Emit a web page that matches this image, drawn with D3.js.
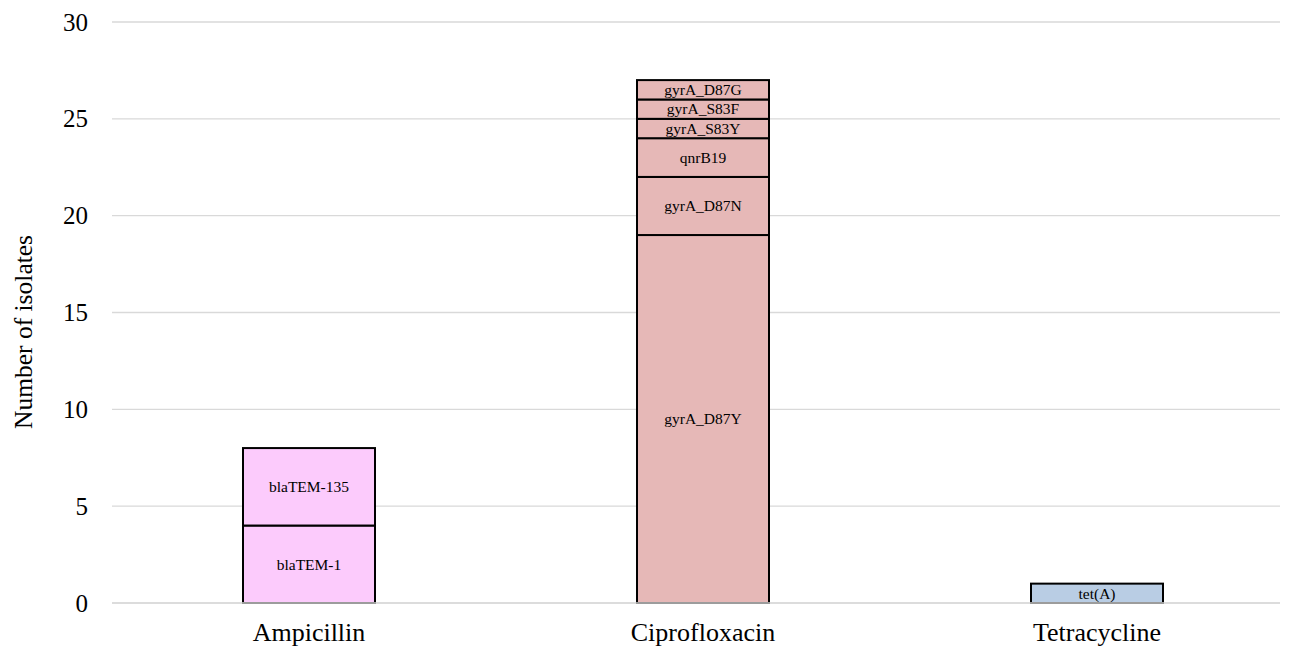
<!DOCTYPE html>
<html>
<head>
<meta charset="utf-8">
<script src="https://cdn.jsdelivr.net/npm/d3@7"></script>
<style>
  body { margin: 0; background: #fff; }
  svg text { font-family: "Liberation Serif", "Times New Roman", serif; fill: #000; }
</style>
</head>
<body>
<svg width="1293" height="647"></svg>
<script>
// antibiotic classes on the x axis
const drugs = ['Ampicillin', 'Ciprofloxacin', 'Tetracycline'];

// resistance genes / mutations, stacked bottom to top
const ampGenes = ['blaTEM-1', 'blaTEM-135'];
const ampCounts = [4, 4];

const cipGenes = ['gyrA_D87Y', 'gyrA_D87N', 'qnrB19', 'gyrA_S83Y', 'gyrA_S83F', 'gyrA_D87G'];
const cipCounts = [19, 3, 2, 1, 1, 1];

const tetGenes = ['tet(A)'];
const tetCounts = [1];

const yTicks = [0, 5, 10, 15, 20, 25, 30];

const barColors = { Ampicillin: '#fccbfc', Ciprofloxacin: '#e6b8b7', Tetracycline: '#b9cde4' };

// build stacked segments
const groups = [
    { drug: 'Ampicillin', genes: ampGenes, counts: ampCounts },
    { drug: 'Ciprofloxacin', genes: cipGenes, counts: cipCounts },
    { drug: 'Tetracycline', genes: tetGenes, counts: tetCounts }
];
const segments = [];
groups.forEach(g => {
    let base = 0;
    g.genes.forEach((name, i) => {
        segments.push({ drug: g.drug, name: name, y0: base, y1: base + g.counts[i] });
        base += g.counts[i];
    });
});

const svg = d3.select('svg');

const x = d3.scaleBand().domain(drugs).range([112, 1294]).paddingInner(0).paddingOuter(0);
const y = d3.scaleLinear().domain([0, 30]).range([603, 22]);
const barW = 132;

// gridlines (no zero line yet, it goes on top of the bars)
svg.append('g').selectAll('line')
    .data(yTicks.filter(d => d > 0))
    .join('line')
    .attr('x1', 112).attr('x2', 1280)
    .attr('y1', d => y(d)).attr('y2', d => y(d))
    .attr('stroke', '#d9d9d9').attr('stroke-width', 1.3);

// tick labels
svg.append('g').selectAll('text')
    .data(yTicks)
    .join('text')
    .attr('x', 88).attr('y', d => y(d))
    .attr('dy', '0.34em')
    .attr('text-anchor', 'end')
    .style('font-size', '25px')
    .text(d => d);

// stacked bars
const cx = d => x(d) + x.bandwidth() / 2;
svg.append('g').selectAll('rect')
    .data(segments)
    .join('rect')
    .attr('x', d => cx(d.drug) - barW / 2)
    .attr('width', barW)
    .attr('y', d => y(d.y1))
    .attr('height', d => y(d.y0) - y(d.y1))
    .attr('fill', d => barColors[d.drug])
    .attr('stroke', '#000').attr('stroke-width', 2);

// segment labels
svg.append('g').selectAll('text')
    .data(segments)
    .join('text')
    .attr('x', d => cx(d.drug))
    .attr('y', d => (y(d.y0) + y(d.y1)) / 2)
    .attr('dy', '0.34em')
    .attr('text-anchor', 'middle')
    .style('font-size', '15.5px')
    .text(d => d.name);

// baseline
svg.append('line')
    .attr('x1', 112).attr('x2', 1280)
    .attr('y1', y(0)).attr('y2', y(0))
    .attr('stroke', '#d0d0d0').attr('stroke-width', 1.6);

// category labels
svg.append('g').selectAll('text')
    .data(drugs)
    .join('text')
    .attr('x', d => cx(d))
    .attr('y', 641)
    .attr('text-anchor', 'middle')
    .style('font-size', '26px')
    .text(d => d);

// y axis title
svg.append('text')
    .attr('transform', 'translate(32,332) rotate(-90)')
    .attr('text-anchor', 'middle')
    .style('font-size', '25.5px')
    .text('Number of isolates');
</script>
</body>
</html>
